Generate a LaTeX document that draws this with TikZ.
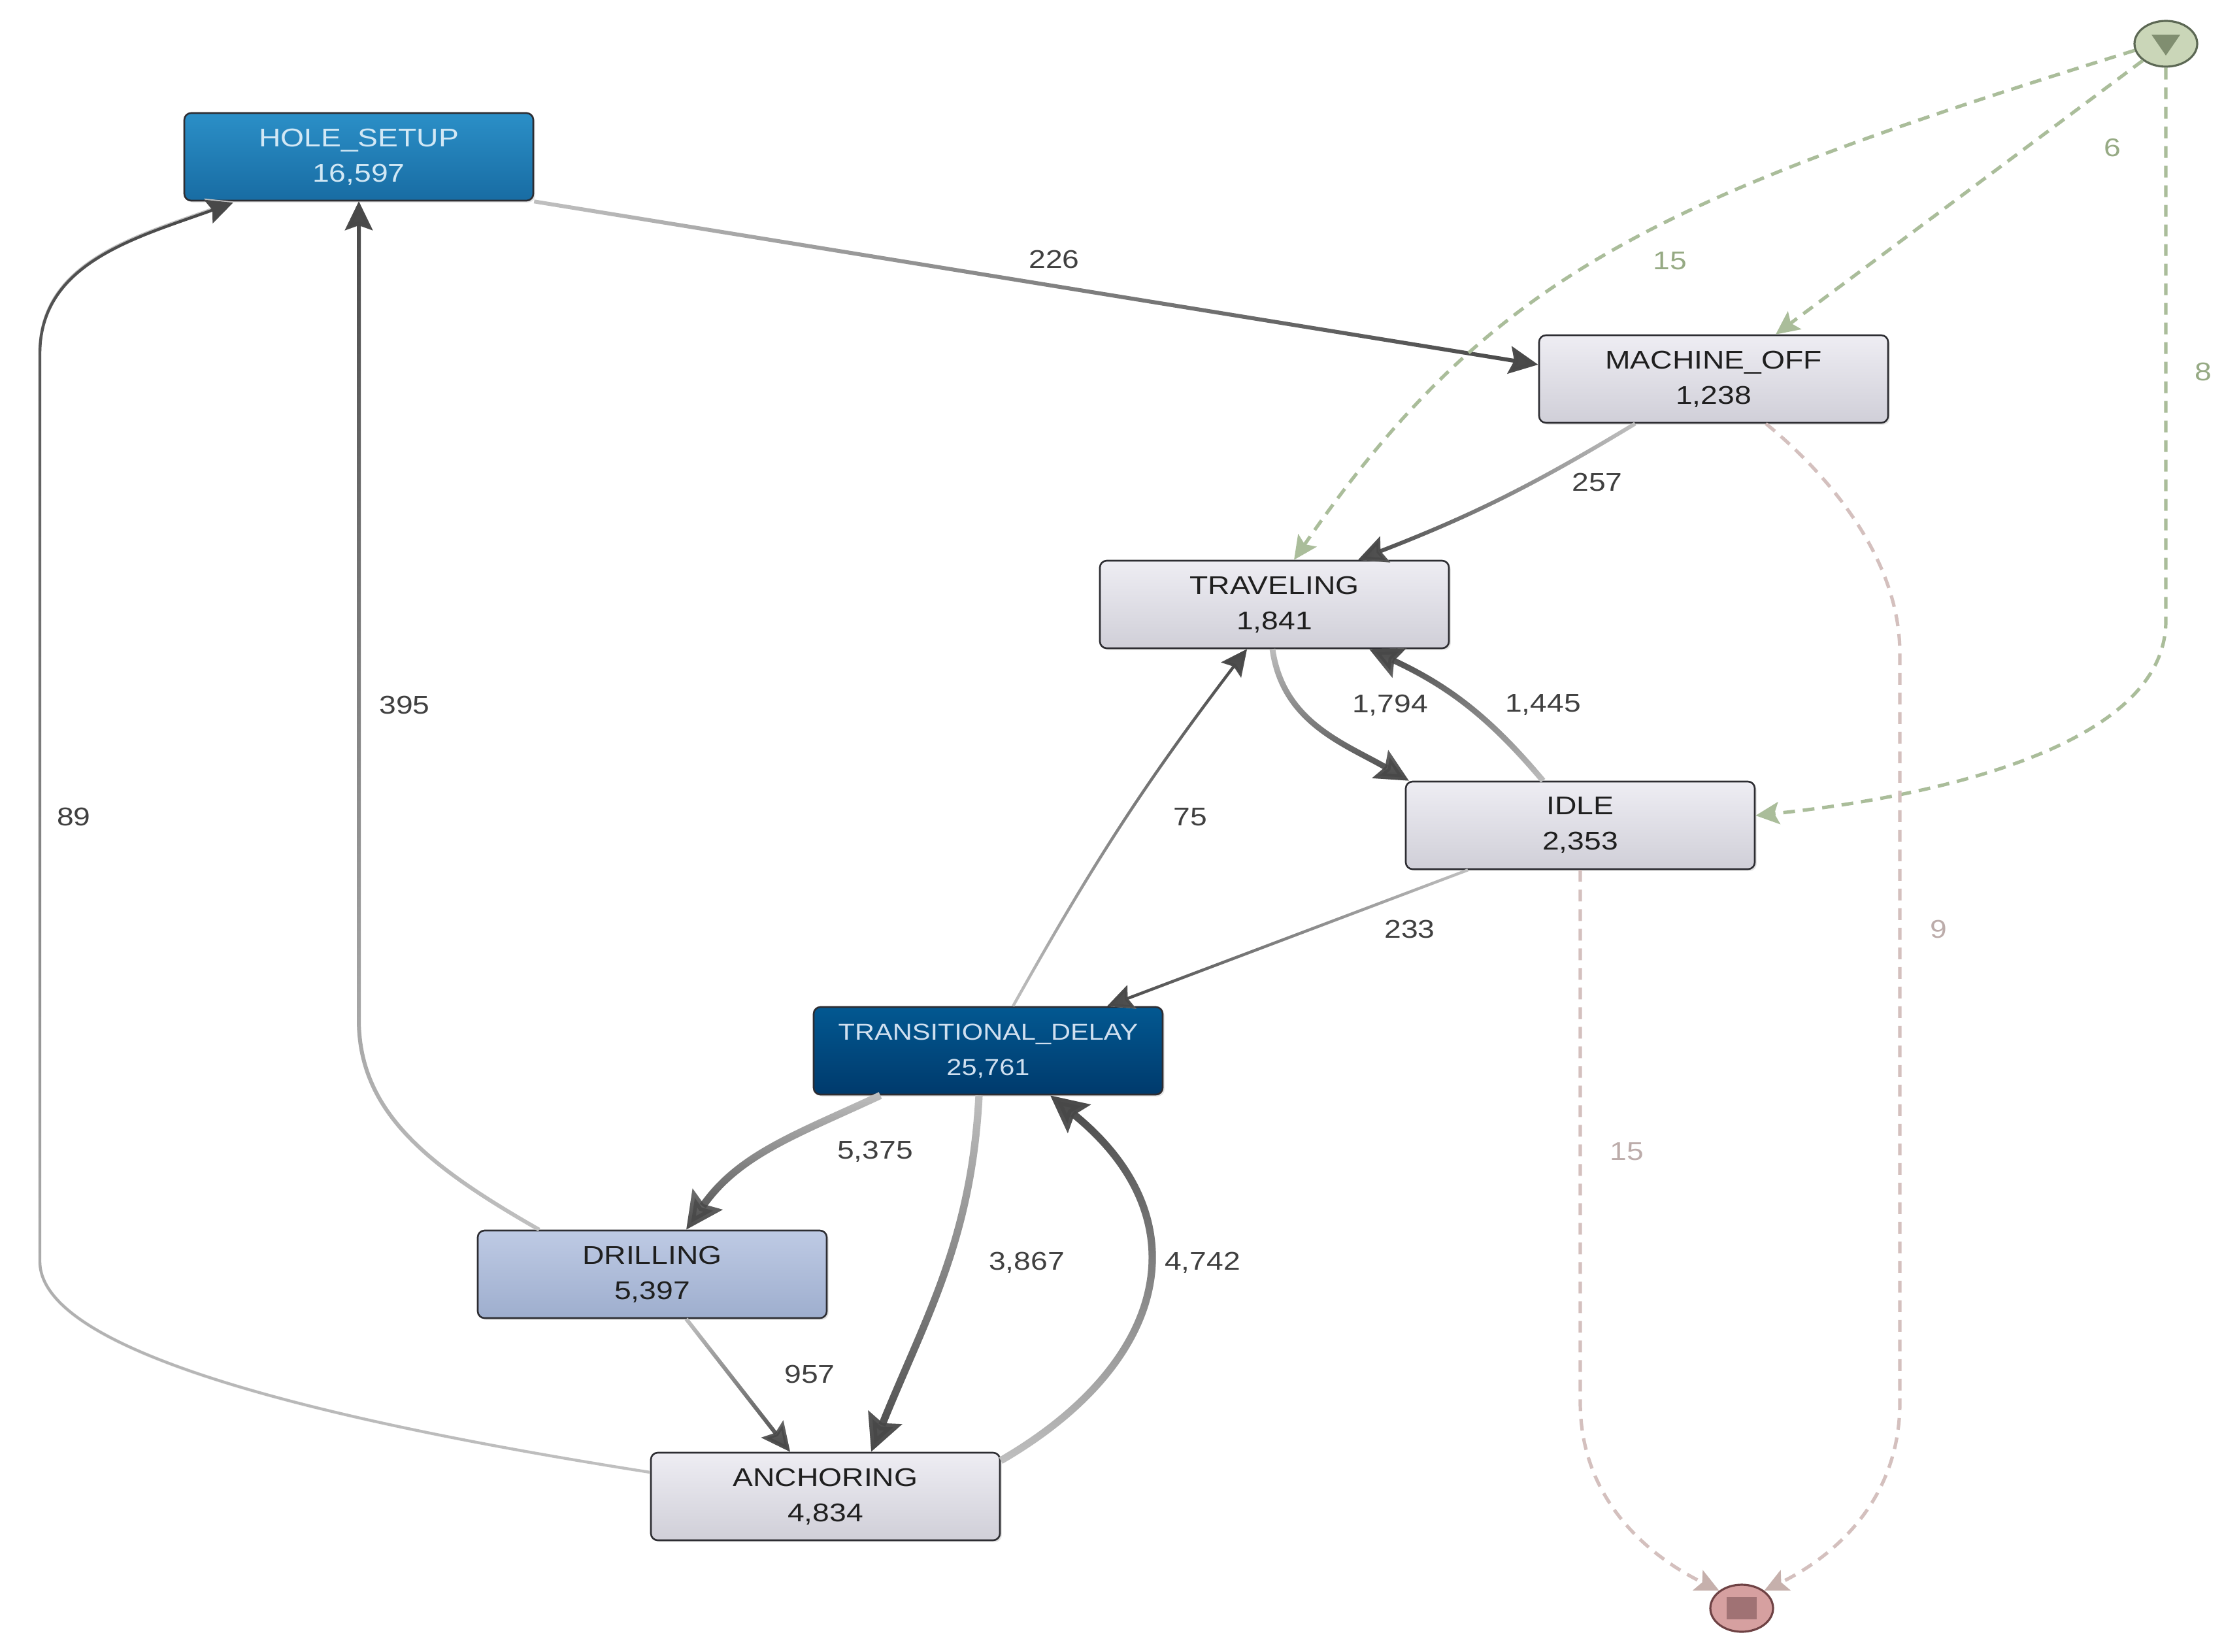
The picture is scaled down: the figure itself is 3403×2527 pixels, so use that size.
\documentclass[tikz,border=0pt]{standalone}
\usepackage{fontspec}
\setmainfont{Liberation Sans}[FakeStretch=1.18]
\usetikzlibrary{arrows.meta,shapes.geometric,calc,fadings,shadows}

\definecolor{hsTop}{RGB}{43,143,199}
\definecolor{hsBot}{RGB}{24,108,163}
\definecolor{hsTxt}{RGB}{210,232,245}
\definecolor{tdTop}{RGB}{2,88,145}
\definecolor{tdBot}{RGB}{0,58,108}
\definecolor{tdTxt}{RGB}{208,224,240}
\definecolor{drTop}{RGB}{190,202,228}
\definecolor{drBot}{RGB}{158,174,206}
\definecolor{gyTop}{RGB}{238,237,243}
\definecolor{gyBot}{RGB}{208,207,216}
\definecolor{boxline}{RGB}{45,45,50}
\definecolor{edgeLight}{RGB}{192,192,192}
\definecolor{edgeDark}{RGB}{72,72,72}
\definecolor{lbl}{RGB}{64,64,64}
\definecolor{grn}{RGB}{170,189,154}
\definecolor{grnTxt}{RGB}{150,170,132}
\definecolor{pnk}{RGB}{212,192,190}
\definecolor{pnkTip}{RGB}{198,176,172}
\definecolor{pnkTxt}{RGB}{188,172,170}
\definecolor{stFill}{RGB}{202,214,184}
\definecolor{stLine}{RGB}{92,104,84}
\definecolor{stTri}{RGB}{128,142,112}
\definecolor{enFill}{RGB}{214,160,160}
\definecolor{enLine}{RGB}{110,66,68}
\definecolor{enSq}{RGB}{160,114,116}

\tikzfading[name=fadeE, left color=transparent!100, right color=transparent!0]
\tikzfading[name=fadeW, left color=transparent!0, right color=transparent!100]
\tikzfading[name=fadeS, top color=transparent!100, bottom color=transparent!0]
\tikzfading[name=fadeN, top color=transparent!0, bottom color=transparent!100]

\tikzset{
  box/.style={rectangle, rounded corners=2.6pt, draw=boxline, line width=0.65pt,
    minimum width=133.5pt, minimum height=33.5pt, inner sep=0pt, align=center,
    font=\fontsize{9.8}{13.5}\selectfont,
    drop shadow={shadow xshift=0.7pt, shadow yshift=-0.7pt, opacity=0.2}},
  graybox/.style={box, top color=gyTop, bottom color=gyBot, text=black!88},
  holebox/.style={box, top color=hsTop, bottom color=hsBot, text=hsTxt},
  tdbox/.style={box, top color=tdTop, bottom color=tdBot, text=tdTxt,
    font=\fontsize{8.8}{13.5}\selectfont},
  drbox/.style={box, top color=drTop, bottom color=drBot, text=black!88},
  elabel/.style={font=\fontsize{9.8}{12}\selectfont, text=lbl, inner sep=1pt},
  glabel/.style={elabel, text=grnTxt},
  plabel/.style={elabel, text=pnkTxt},
  edgeL/.style={draw=edgeLight},
  edgeD/.style={draw=edgeDark},
  wT/.style={line width=1.1pt, -{Stealth[length=10pt,width=9.5pt,inset=1.6pt]}},
  wN/.style={line width=1.5pt, -{Stealth[length=11pt,width=10.5pt,inset=1.8pt]}},
  wM/.style={line width=2.2pt, -{Stealth[length=12.5pt,width=12pt,inset=2pt]}},
  wK/.style={line width=2.8pt, -{Stealth[length=14pt,width=13.5pt,inset=2.2pt]}},
  grnedge/.style={draw=grn, line width=1.3pt, dash pattern=on 4.5pt off 3pt,
    -{Stealth[length=9pt,width=8.5pt,inset=1.8pt,fill=grn]}},
  pnkedge/.style={draw=pnk, line width=1.3pt, dash pattern=on 4.5pt off 3pt,
    -{Stealth[length=9pt,width=8.5pt,inset=1.8pt,color=pnkTip,fill=pnkTip]}},
}

\newcommand\gradedge[3]{%
  \draw[edgeL,#2] #3;
  \draw[edgeD,#2,path fading=#1] #3;}

\begin{document}
\begin{tikzpicture}[x=0.25pt,y=0.25pt]
\useasboundingbox (0,0) rectangle (3403,-2527);
\fill[white] (0,0) rectangle (3403,-2527);

% nodes
\node[holebox]  (hs) at (549,-240)  {HOLE\_SETUP\\16,597};
\node[graybox]  (mo) at (2622,-580) {MACHINE\_OFF\\1,238};
\node[graybox]  (tr) at (1950,-925) {TRAVELING\\1,841};
\node[graybox]  (id) at (2418,-1263) {IDLE\\2,353};
\node[tdbox]    (td) at (1512,-1608) {TRANSITIONAL\_DELAY\\25,761};
\node[drbox]    (dr) at (998,-1950) {DRILLING\\5,397};
\node[graybox]  (an) at (1263,-2290) {ANCHORING\\4,834};

\node[ellipse, minimum width=24pt, minimum height=17.5pt, inner sep=0pt,
      fill=stFill, draw=stLine, line width=0.8pt] (st) at (3314,-67) {};
\fill[stTri] ($(st.center)+(-22,14)$) -- ($(st.center)+(22,14)$)
   -- ($(st.center)+(0,-18)$) -- cycle;
\node[ellipse, minimum width=24pt, minimum height=18pt, inner sep=0pt,
      fill=enFill, draw=enLine, line width=0.8pt] (en) at (2665,-2461) {};
\fill[enSq] ($(en.center)+(-23,17)$) rectangle ($(en.center)+(23,-17)$);

% main (graded) edges
\gradedge{fadeE}{wN}{(hs.south east) -- ($(mo.west)+(0,22)$)}
\gradedge{fadeW}{wN}{($(mo.south)+(-120,0)$) to[bend left=5] ($(tr.north)+(128,0)$)}
\gradedge{fadeS}{wM}{($(tr.south)+(-3,0)$) to[out=-82,in=150] ($(id.north west)+(6,0)$)}
\gradedge{fadeN}{wM}{($(id.north)+(-57,0)$) to[out=130,in=-25] ($(tr.south)+(145,0)$)}
\gradedge{fadeW}{wT}{($(id.south)+(-172,0)$) -- ($(td.north)+(182,0)$)}
\gradedge{fadeN}{wT}{($(td.north)+(38,0)$) to[bend left=4] ($(tr.south)+(-42,0)$)}
\gradedge{fadeS}{wK}{($(td.south)+(-165,0)$) to[out=205,in=55] ($(dr.north)+(52,0)$)}
\gradedge{fadeS}{wK}{($(td.south)+(-14,0)$) to[out=-93,in=68] ($(an.north)+(70,0)$)}
\gradedge{fadeN}{wK}{($(an.east)+(0,55)$) .. controls (1790,-2085) and (1840,-1864) .. ($(td.south)+(95,0)$)}
\gradedge{fadeS}{wN}{($(dr.south)+(52,0)$) -- ($(an.north)+(-54,0)$)}
\gradedge{fadeN}{wN}{($(dr.north)+(-173,0)$) .. controls (652,-1783) and (549,-1700) .. (549,-1560) -- (hs.south)}
\gradedge{fadeN}{wT}{($(an.west)+(0,37)$) .. controls (500,-2175) and (61,-2070) .. (61,-1930) -- (61,-540) .. controls (61,-400) and (208,-362) .. ($(hs.south west)+(76,0)$)}

% start / end edges
\draw[grnedge] (st.216) -- ($(mo.north)+(95,0)$);
\draw[grnedge] (st.192) .. controls (2542,-302) and (2284,-415) .. ($(tr.north)+(30,0)$);
\draw[grnedge] (st.south) -- (3314,-950) .. controls (3314,-1130) and (3000,-1215) .. ($(id.east)+(0,15)$);
\draw[pnkedge] ($(mo.south)+(80,0)$) .. controls (2790,-720) and (2907,-850) .. (2907,-1000)
   -- (2907,-2146) .. controls (2907,-2300) and (2800,-2385) .. (en.38);
\draw[pnkedge] (id.south) -- (2418,-2146) .. controls (2418,-2300) and (2530,-2385) .. (en.142);

% labels
\node[elabel] (l226) at (1613,-397) {226};
\node[elabel] (l257) at (2444,-738) {257};
\node[elabel] (l1794) at (2127,-1079) {1,794};
\node[elabel] (l1445) at (2361,-1079) {1,445};
\node[elabel] (l233) at (2157,-1422) {233};
\node[elabel] (l75) at (1821,-1250) {75};
\node[elabel] (l5375) at (1339,-1762) {5,375};
\node[elabel] (l3867) at (1571,-1932) {3,867};
\node[elabel] (l4742) at (1840,-1932) {4,742};
\node[elabel] (l957) at (1239,-2103) {957};
\node[elabel] (l395) at (619,-1079) {395};
\node[elabel] (l89) at (113,-1250) {89};
\node[glabel] (l6) at (3232,-226) {6};
\node[glabel] (l15a) at (2555,-399) {15};
\node[glabel] (l8) at (3371,-569) {8};
\node[plabel] (l9) at (2966,-1422) {9};
\node[plabel] (l15b) at (2489,-1762) {15};
\end{tikzpicture}
\end{document}
